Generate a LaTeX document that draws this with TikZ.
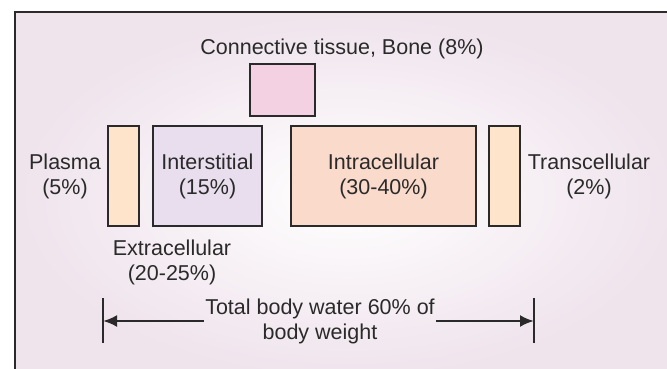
\documentclass[tikz,border=0pt]{standalone}
\usepackage{fontspec}
\setmainfont{Liberation Sans}
\usetikzlibrary{arrows.meta}
\definecolor{fondo}{HTML}{EFE3EC}
\definecolor{tinta}{HTML}{2A2A2A}
\definecolor{melocoton}{HTML}{FEE4CA}
\definecolor{lavanda}{HTML}{E8DEEE}
\definecolor{salmon}{HTML}{FADACB}
\definecolor{rosa}{HTML}{F3D0E2}

\begin{document}
\begin{tikzpicture}[x=1pt,y=-1pt,
   caja/.style={draw=tinta,line width=2.5pt,inner sep=0pt,align=center,text=tinta,
     font=\fontsize{21.5}{25}\selectfont},
   rotulo/.style={align=center,text=tinta,font=\fontsize{21.5}{25}\selectfont},
   barra/.style={tinta,line width=2.5pt},
   flecha/.style={tinta,line width=2.5pt,-{Latex[length=14pt,width=12pt]}}]
  \useasboundingbox (0,0) rectangle (667,368);
  \clip (0,0) rectangle (667,368);
  % fondo y marco
  \shade[inner color=white,outer color=fondo] (15,12) rectangle (680,380);
  \draw[tinta,line width=2.5pt] (15,380) -- (15,12) -- (680,12);
  % --- tejido conectivo ---
  \node[rotulo] (conectivo) at (342,49) {Connective tissue, Bone (8\%)};
  \node[caja,fill=rosa,minimum width=65pt,minimum height=52pt] (hueso) at (282.5,90) {};
  % --- compartimentos ---
  \node[caja,fill=melocoton,minimum width=31pt,minimum height=100pt] (plasma) at (123.5,176) {};
  \node[caja,fill=lavanda,minimum width=109pt,minimum height=100pt] (intersticial) at (207.5,176)
    {Interstitial\\(15\%)};
  \node[caja,fill=salmon,minimum width=185pt,minimum height=100pt] (intracelular) at (383.5,176)
    {Intracellular\\(30-40\%)};
  \node[caja,fill=melocoton,minimum width=31pt,minimum height=100pt] (transcelular) at (504.5,176) {};
  % --- rotulos laterales ---
  \node[rotulo] (plasmatxt) at (65,176) {Plasma\\(5\%)};
  \node[rotulo] (transtxt) at (589,176) {Transcellular\\(2\%)};
  \node[rotulo] (extra) at (172,262) {Extracellular\\(20-25\%)};
  % --- agua corporal total ---
  \node[rotulo] (total) at (320,321) {Total body water 60\% of\\body weight};
  \coordinate (izqA) at (103,298);
  \coordinate (izqM) at (103,321);
  \coordinate (izqB) at (103,343);
  \coordinate (derA) at (534,298);
  \coordinate (derM) at (534,321);
  \coordinate (derB) at (534,343);
  \draw[barra] (izqA) -- (izqB);
  \draw[barra] (derA) -- (derB);
  \draw[flecha,shorten <=-2pt] (total.west) -- (izqM);
  \draw[flecha,shorten <=-2pt] (total.east) -- (derM);
\end{tikzpicture}
\end{document}
